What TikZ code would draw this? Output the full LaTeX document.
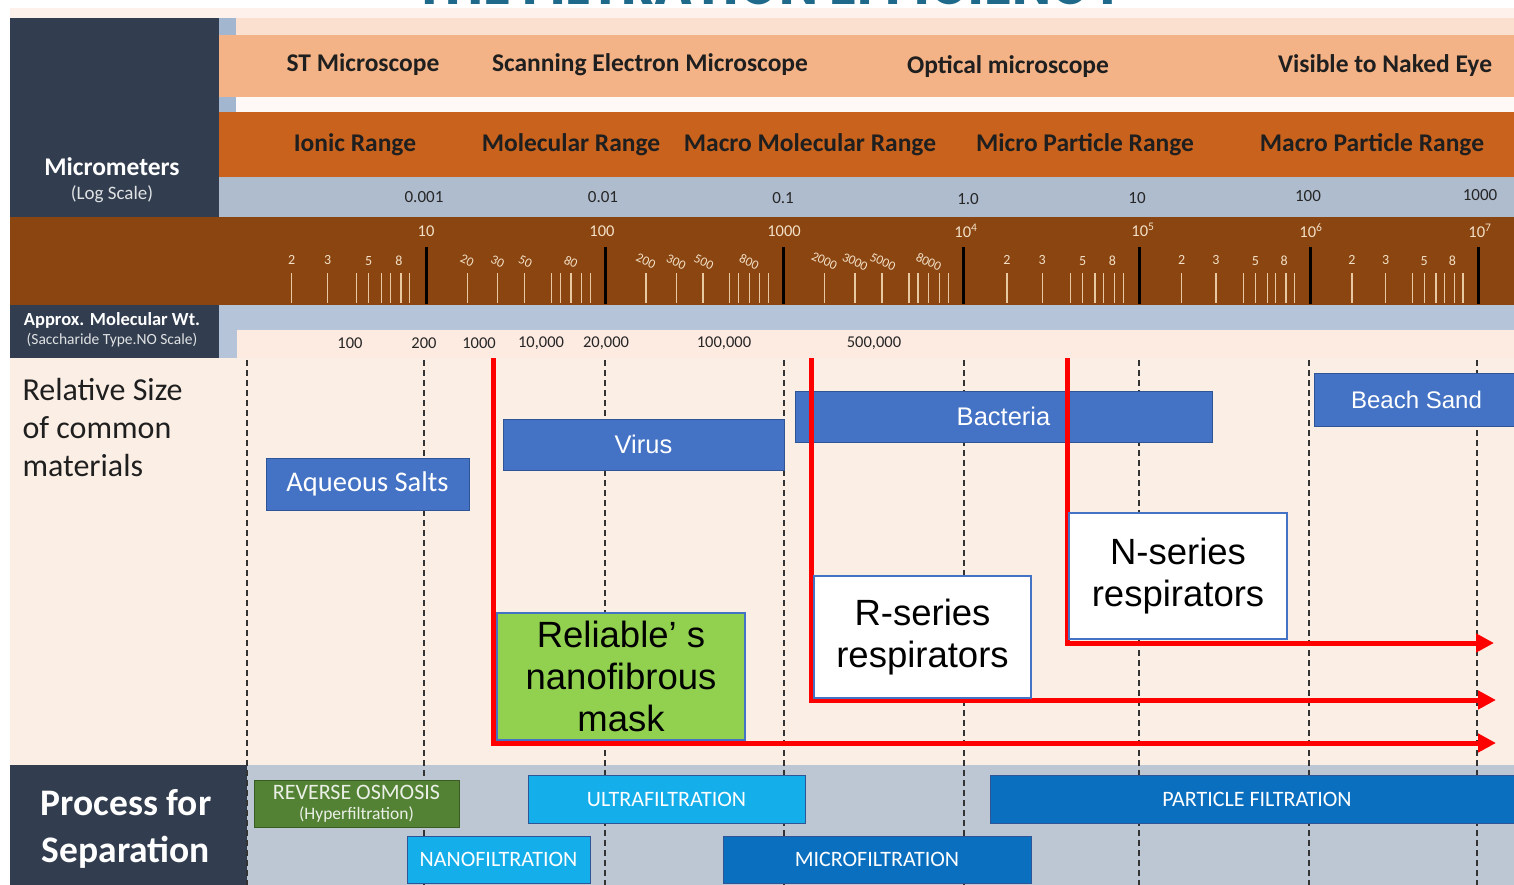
\documentclass[tikz,border=0pt]{standalone}
\usepackage{fontspec}
\usepackage{graphicx}
\setmainfont{Carlito}
\newfontfamily\rob{Liberation Sans}
\newfontfamily\tit{Poppins}
\usetikzlibrary{arrows.meta}
\definecolor{bgpeach}{HTML}{FBEEE5}
\definecolor{navy}{HTML}{323E4F}
\definecolor{lorange}{HTML}{F4B386}
\definecolor{dorange}{HTML}{C8621C}
\definecolor{lblue}{HTML}{AFBCCE}
\definecolor{brownband}{HTML}{8A4511}
\definecolor{mwblue}{HTML}{B5C4D8}
\definecolor{mwpeach}{HTML}{FDEBE2}
\definecolor{botgray}{HTML}{BDC6D3}
\definecolor{matblue}{HTML}{4472C4}
\definecolor{matedge}{HTML}{2F5597}
\definecolor{rogreen}{HTML}{548235}
\definecolor{cyanbox}{HTML}{14AEEA}
\definecolor{deepblue}{HTML}{0B6FC0}
\definecolor{mingreen}{HTML}{92D050}
\definecolor{tickc}{HTML}{E8C9A2}
\definecolor{ticklab}{HTML}{F3E0C6}
\definecolor{titc}{HTML}{1F6A8A}
\definecolor{stripblue}{HTML}{A3B6D0}
\tikzset{
  hdr/.style={font=\bfseries\fontsize{25.5}{27}\selectfont, text=black!88},
  mu/.style={font=\fontsize{17}{19}\selectfont, text=black!85},
  declab/.style={font=\fontsize{16.5}{18}\selectfont, text=ticklab},
  minlab/.style={font=\fontsize{14}{16}\selectfont, text=ticklab},
  rotlab/.style={font=\fontsize{13}{15}\selectfont, text=ticklab, rotate=-25, inner sep=0pt},
  mwlab/.style={font=\fontsize{16.5}{18}\selectfont, text=black!85},
  minortick/.style={draw=tickc, line width=1.2pt},
  majortick/.style={draw=black, line width=3pt},
  gridline/.style={draw=black!80, line width=1.4pt, dash pattern=on 6pt off 4pt},
  matbox/.style={fill=matblue, draw=matedge, line width=1pt, text=white, inner sep=0pt},
  procbox/.style={draw=matedge, line width=0.8pt, text=white, inner sep=0pt, font=\fontsize{22}{24}\selectfont},
  maskbox/.style={draw=matblue, line width=1.5pt, inner sep=0pt, font=\rob\fontsize{36.5}{42}\selectfont, align=center, text=black},
  redarrow/.style={draw=red, line width=5pt, -{Triangle[length=18pt,width=18pt]}},
}
\begin{document}
\begin{tikzpicture}[x=1pt,y=-1pt]
\useasboundingbox (0,0) rectangle (1514,885);
% backgrounds
\fill[white] (0,0) rectangle (1514,885);
\fill[bgpeach] (10,8) rectangle (1514,885);
\fill[mwpeach!70!white] (10,8) rectangle (1514,18);
\begin{scope}
\clip (0,0) rectangle (1514,7);
\node[anchor=base, inner sep=0pt, text=titc] (title) at (770,5) {\resizebox{710pt}{42pt}{\tit\bfseries THE FILTRATION EFFICIENCY}};
\end{scope}
\fill[navy] (10,18) rectangle (219,217);
\fill[stripblue] (219,18) rectangle (236,112);
\fill[mwpeach!80!lorange] (236,18) rectangle (1514,35);
\fill[lorange] (219,35) rectangle (1514,97);
\fill[white!70!mwpeach] (236,97) rectangle (1514,112);
\fill[dorange] (219,112) rectangle (1514,177);
\fill[lblue] (219,177) rectangle (1514,217);
\fill[brownband] (10,217) rectangle (1514,305);
\fill[mwblue] (219,305) rectangle (1514,330);
\fill[mwblue] (219,330) rectangle (237,358);
\fill[mwpeach] (237,330) rectangle (1514,358);
\fill[navy] (10,305) rectangle (219,358);
\fill[botgray] (247,765) rectangle (1514,885);
\fill[navy] (10,765) rectangle (247,885);

% left panel labels
\node[font=\bfseries\fontsize{25.5}{27}\selectfont, text=white] (micro) at (112,167) {Micrometers};
\node[font=\fontsize{19}{21}\selectfont, text=white!85!navy] (logsc) at (112,194) {(Log Scale)};
\node[font=\bfseries\fontsize{18.5}{20}\selectfont, text=white] (amw) at (112,320) {Approx. Molecular Wt.};
\node[font=\fontsize{15.5}{17}\selectfont, text=white!85!navy] (sacch) at (112,340) {(Saccharide Type.NO Scale)};

% microscope headers
\node[hdr] (st) at (363,65) {ST Microscope};
\node[hdr] (sem) at (650,65) {Scanning Electron Microscope};
\node[hdr] (opt) at (1008,67) {Optical microscope};
\node[hdr] (vis) at (1385,66) {Visible to Naked Eye};
% ranges
\node[hdr] (ion) at (355,145) {Ionic Range};
\node[hdr] (mol) at (571,145) {Molecular Range};
\node[hdr] (mmol) at (810,145) {Macro Molecular Range};
\node[hdr] (mpr) at (1085,145) {Micro Particle Range};
\node[hdr] (mapr) at (1372,145) {Macro Particle Range};
% micrometer values
\node[mu] (u1) at (424,197) {0.001};
\node[mu] (u2) at (603,197) {0.01};
\node[mu] (u3) at (783,198) {0.1};
\node[mu] (u4) at (968,199) {1.0};
\node[mu] (u5) at (1137,198) {10};
\node[mu] (u6) at (1308,196) {100};
\node[mu] (u7) at (1480,195) {1000};

% ticks
\foreach \a/\b in {247/426, 963/1139, 1139/1310, 1310/1478} {
  \foreach \f in {0.25,0.45,0.61,0.68,0.75,0.80,0.86,0.91} {
    \draw[minortick] ({\a+\f*(\b-\a)},273) -- ++(0,30);
  }
}
\foreach \a/\b in {426/605, 605/783, 783/963} {
  \foreach \f in {0.23,0.40,0.55,0.70,0.75,0.81,0.87,0.92} {
    \draw[minortick] ({\a+\f*(\b-\a)},273) -- ++(0,30);
  }
}
\foreach \x in {426,605,783,963,1139,1310,1478} {
  \draw[majortick] (\x,247) -- (\x,304);
}
\node[declab] (d1) at (426,231) {10};
\node[declab] (d2) at (602,231) {100};
\node[declab] (d3) at (784,231) {1000};
\node[declab] (d4) at (966,231) {10\textsuperscript{4}};
\node[declab] (d5) at (1143,230) {10\textsuperscript{5}};
\node[declab] (d6) at (1311,231) {10\textsuperscript{6}};
\node[declab] (d7) at (1480,231) {10\textsuperscript{7}};
\foreach \a/\b [count=\i] in {247/426, 963/1139, 1139/1310, 1310/1478} {
  \node[minlab] (ma\i) at ({\a+0.25*(\b-\a)},260) {2};
  \node[minlab] (mb\i) at ({\a+0.45*(\b-\a)},260) {3};
  \node[minlab] (mc\i) at ({\a+0.68*(\b-\a)},261) {5};
  \node[minlab] (md\i) at ({\a+0.86*(\b-\a)-2},261) {8};
}
\foreach \a/\b/\s [count=\i] in {426/605/0, 605/783/00, 783/963/000} {
  \node[rotlab] (ra\i) at ({\a+0.23*(\b-\a)},261) {2\s};
  \node[rotlab] (rb\i) at ({\a+0.40*(\b-\a)},262) {3\s};
  \node[rotlab] (rc\i) at ({\a+0.555*(\b-\a)},262) {5\s};
  \node[rotlab] (rd\i) at ({\a+0.81*(\b-\a)},262) {8\s};
}

% molecular weights
\node[mwlab] (w1) at (350,343) {100};
\node[mwlab] (w2) at (424,343) {200};
\node[mwlab] (w3) at (479,343) {1000};
\node[mwlab] (w4) at (541,343) {10,000};
\node[mwlab] (w5) at (606,343) {20,000};
\node[mwlab] (w6) at (724,343) {100,000};
\node[mwlab] (w7) at (874,343) {500,000};

% dashed grid lines
\foreach \x in {247,424,605,784,964,1139,1309,1477} {
  \draw[gridline] (\x,360) -- (\x,885);
}

% relative size label
\node[anchor=west, align=left, font=\fontsize{32}{38}\selectfont, text=black!88] (rel) at (19,428) {Relative Size\\of common\\materials};

% material boxes
\node[matbox, minimum width=203pt, minimum height=52pt, font=\fontsize{28.5}{30}\selectfont] (salts) at (367.5,484) {Aqueous Salts};
\node[matbox, minimum width=281pt, minimum height=51pt, font=\rob\fontsize{25.5}{27}\selectfont] (virus) at (643.5,444.5) {Virus};
\node[matbox, minimum width=417pt, minimum height=51pt, font=\rob\fontsize{25.5}{27}\selectfont] (bact) at (1003.5,416.5) {Bacteria};
\node[matbox, minimum width=210pt, minimum height=53pt, font=\rob\fontsize{24}{26}\selectfont, anchor=west] (sand) at (1314,399.5) {\hspace*{-6pt}Beach Sand};

% red arrows
\coordinate (r1s) at (493,358);
\coordinate (r1e) at (1496,743);
\coordinate (r2s) at (811,358);
\coordinate (r2e) at (1496,700);
\coordinate (r3s) at (1067,358);
\coordinate (r3e) at (1494,643);
\draw[redarrow] (r1s) |- (r1e);
\draw[redarrow] (r2s) |- (r2e);
\draw[redarrow] (r3s) |- (r3e);

% mask boxes
\node[maskbox, fill=mingreen, minimum width=248pt, minimum height=127pt] (mask) at (621,676.5) {Reliable\char"2019\ s\\nanofibrous\\mask};
\node[maskbox, fill=white, minimum width=217pt, minimum height=122pt] (rser) at (922.5,637) {R-series\\respirators};
\node[maskbox, fill=white, minimum width=218pt, minimum height=126pt] (nser) at (1178,576) {N-series\\respirators};

% process label
\node[align=center, font=\bfseries\fontsize{37.5}{47}\selectfont, text=white] (proc) at (126,829) {Process for\\Separation};

% process boxes
\node[procbox, fill=rogreen, draw=rogreen!70!black, minimum width=205pt, minimum height=47pt, align=center, text=white!88!rogreen] (ro) at (356.5,803.5) {REVERSE OSMOSIS\\[-4pt]{\fontsize{17.5}{19}\selectfont (Hyperfiltration)}};
\node[procbox, fill=cyanbox, minimum width=277pt, minimum height=48pt] (uf) at (666.5,799) {ULTRAFILTRATION};
\node[procbox, fill=deepblue, minimum width=524pt, minimum height=48pt] (pf) at (1252,799) {\hspace*{10pt}PARTICLE FILTRATION};
\node[procbox, fill=cyanbox, minimum width=183pt, minimum height=47pt] (nf) at (498.5,859.5) {NANOFILTRATION};
\node[procbox, fill=deepblue, minimum width=308pt, minimum height=47pt] (mf) at (877,859.5) {MICROFILTRATION};
\end{tikzpicture}
\end{document}
